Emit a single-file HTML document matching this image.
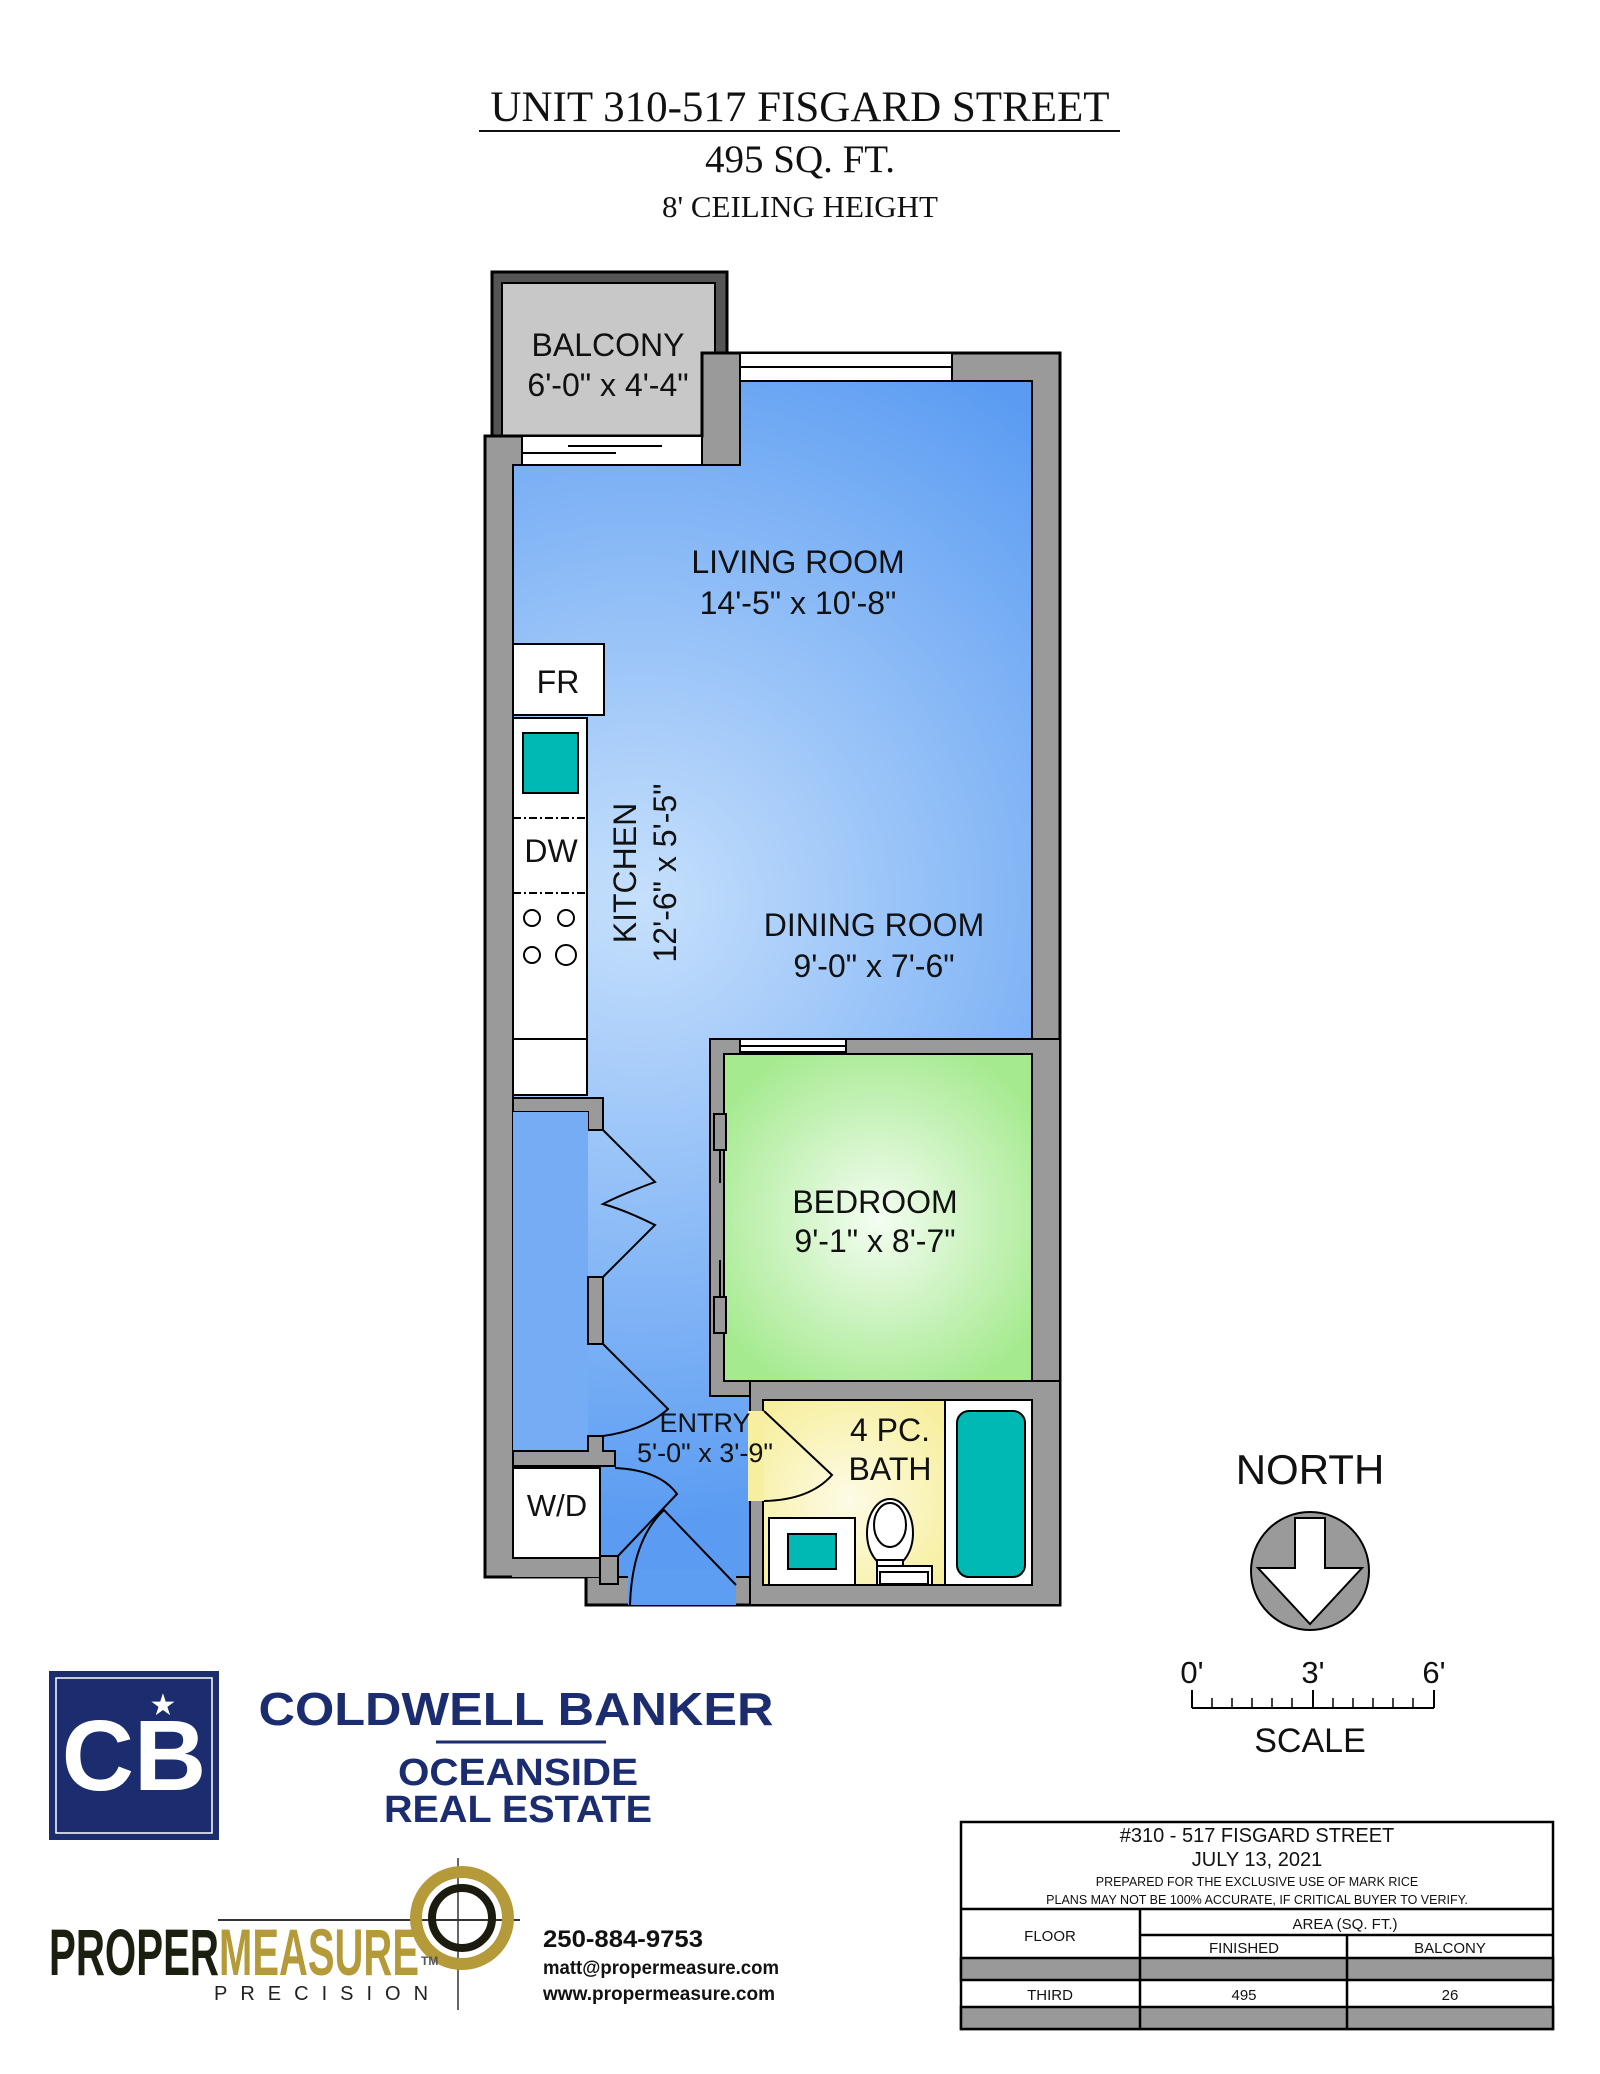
<!DOCTYPE html>
<html><head><meta charset="utf-8"><style>
html,body{margin:0;padding:0;background:#fff}
svg{display:block}
</style></head><body>
<svg width="1600" height="2074" viewBox="0 0 1600 2074" xmlns="http://www.w3.org/2000/svg">
<defs>
<radialGradient id="blue" cx="640" cy="900" r="620" gradientUnits="userSpaceOnUse">
<stop offset="0" stop-color="#c6e0fc"/><stop offset="1" stop-color="#5b9cf2"/></radialGradient>
<radialGradient id="green" cx="878" cy="1220" r="190" gradientUnits="userSpaceOnUse">
<stop offset="0" stop-color="#f4fdf2"/><stop offset="1" stop-color="#a5ea8f"/></radialGradient>
<radialGradient id="yel" cx="850" cy="1500" r="120" gradientUnits="userSpaceOnUse">
<stop offset="0" stop-color="#fdfbe6"/><stop offset="1" stop-color="#f7ef9f"/></radialGradient>
</defs>
<g font-family="Liberation Serif, serif" text-anchor="middle" fill="#111">
<text x="800" y="121" font-size="43">UNIT 310-517 FISGARD STREET</text>
<line x1="479" y1="131" x2="1120" y2="131" stroke="#111" stroke-width="2"/>
<text x="800" y="172" font-size="39">495 SQ. FT.</text>
<text x="800" y="217" font-size="31">8' CEILING HEIGHT</text>
</g>
<g stroke="#000" stroke-width="3">
<rect x="492" y="272" width="235" height="164" fill="#555"/>
<rect x="502" y="283" width="213" height="153" fill="#c8c8c8" stroke-width="2"/>
<polygon points="485,436 702,436 702,353 1060,353 1060,1605 586,1605 586,1577 485,1577" fill="#9a9a9a"/>
<polygon points="513,465 740,465 740,381 1032,381 1032,1577 513,1577" fill="url(#blue)" stroke-width="2"/>
<rect x="628" y="1570" width="108" height="35" fill="#5e9ef2" stroke="none"/>
</g>
<g stroke="#000" stroke-width="2" fill="#fff">
<rect x="740" y="353" width="212" height="28"/><line x1="740" y1="367" x2="952" y2="367"/>
<rect x="522" y="436" width="180" height="29"/>
<line x1="568" y1="446" x2="662" y2="446"/><line x1="522" y1="453" x2="616" y2="453"/>
<rect x="513" y="644" width="91" height="71"/>
<rect x="513" y="718" width="74" height="377"/>
<rect x="523" y="733" width="55" height="60" fill="#00b8b4"/>
<line x1="513" y1="818" x2="587" y2="818" stroke-dasharray="8,3,2,3"/>
<line x1="513" y1="893" x2="587" y2="893" stroke-dasharray="8,3,2,3"/>
<circle cx="532" cy="918" r="8"/><circle cx="566" cy="918" r="8"/>
<circle cx="532" cy="955" r="8"/><circle cx="566" cy="955" r="10"/>
<line x1="513" y1="1039" x2="587" y2="1039"/>
<path d="M513,1098 H603 V1130 H588 V1112 H513 Z" fill="#9a9a9a"/>
<rect x="513" y="1112" width="75" height="339" fill="#76acf4" stroke="none"/>
<rect x="588" y="1277" width="15" height="67" fill="#9a9a9a"/>
<path d="M588,1436 H603 V1451 H615 V1466 H513 V1451 H588 Z" fill="#9a9a9a"/>
<rect x="512" y="1556" width="88" height="21" fill="#9a9a9a" stroke="none"/>
<rect x="513" y="1468" width="87" height="90"/>
<rect x="600" y="1556" width="18" height="28" fill="#9a9a9a"/>
<g fill="none">
<path d="M603,1130 L655,1182 Q620,1195 603,1204 Q625,1210 655,1225 L603,1277"/>
<path d="M603,1344 L668,1409 Q645,1430 603,1436"/>
<path d="M615,1468 Q660,1470 677,1494 L618,1556"/>
<path d="M736,1585 L664,1510 Q632,1540 630,1605"/>
</g>
<rect x="710" y="1039" width="350" height="357" fill="#9a9a9a"/>
<rect x="724" y="1054" width="308" height="327" fill="url(#green)"/>
<rect x="740" y="1039" width="106" height="13"/><line x1="740" y1="1046" x2="846" y2="1046"/>
<rect x="714" y="1114" width="12" height="36" fill="#9a9a9a"/>
<rect x="714" y="1297" width="12" height="36" fill="#9a9a9a"/>
<line x1="720" y1="1150" x2="720" y2="1183"/><line x1="720" y1="1260" x2="720" y2="1297"/>
<rect x="750" y="1381" width="310" height="224" fill="#9a9a9a"/>
<rect x="763" y="1400" width="182" height="185" fill="url(#yel)"/>
<rect x="748" y="1411" width="16" height="90" fill="#f7ef9f" stroke="none"/>
<path d="M764,1411 L832,1475 Q810,1500 764,1501" fill="none"/>
<rect x="945" y="1400" width="87" height="185"/>
<rect x="957" y="1411" width="68" height="166" rx="12" fill="#00b8b4"/>
<rect x="769" y="1518" width="86" height="67"/>
<rect x="788" y="1534" width="48" height="35" fill="#00b8b4"/>
<ellipse cx="890" cy="1533" rx="23" ry="34"/>
<ellipse cx="890" cy="1525" rx="16" ry="22"/>
<rect x="877" y="1560" width="26" height="6"/>
<rect x="877" y="1566" width="55" height="19"/>
<rect x="880" y="1572" width="48" height="12"/>
</g>
<g font-family="Liberation Sans, sans-serif" text-anchor="middle" fill="#111" font-size="32">
<text x="608" y="356">BALCONY</text><text x="608" y="396">6'-0" x 4'-4"</text>
<text x="798" y="573">LIVING ROOM</text><text x="798" y="614">14'-5" x 10'-8"</text>
<text x="558" y="693">FR</text>
<text x="551" y="862">DW</text>
<text transform="translate(636,873) rotate(-90)">KITCHEN</text>
<text transform="translate(676,873) rotate(-90)">12'-6" x 5'-5"</text>
<text x="874" y="936">DINING ROOM</text><text x="874" y="977">9'-0" x 7'-6"</text>
<text x="875" y="1213">BEDROOM</text><text x="875" y="1252">9'-1" x 8'-7"</text>
<text x="557" y="1516" font-size="31">W/D</text>
<text x="705" y="1432" font-size="27">ENTRY</text><text x="705" y="1462" font-size="27">5'-0" x 3'-9"</text>
<text x="890" y="1441">4 PC.</text><text x="890" y="1480">BATH</text>
<text x="1310" y="1484" font-size="42">NORTH</text>
<text x="1192" y="1683" font-size="31">0'</text><text x="1313" y="1683" font-size="31">3'</text><text x="1434" y="1683" font-size="31">6'</text>
<text x="1310" y="1752" font-size="34">SCALE</text>
</g>
<g stroke="#000" stroke-width="2">
<circle cx="1310" cy="1571" r="59" fill="#9a9a9a"/>
<polygon points="1295,1518 1325,1518 1325,1568 1362,1568 1310,1624 1258,1568 1295,1568" fill="#fff"/>
<line x1="1192" y1="1708" x2="1434" y2="1708"/>
<line x1="1192" y1="1690" x2="1192" y2="1708"/><line x1="1313" y1="1690" x2="1313" y2="1708"/><line x1="1434" y1="1690" x2="1434" y2="1708"/>
<g stroke-width="1.5">
<line x1="1212" y1="1698" x2="1212" y2="1708"/><line x1="1232" y1="1698" x2="1232" y2="1708"/><line x1="1252" y1="1698" x2="1252" y2="1708"/><line x1="1272" y1="1698" x2="1272" y2="1708"/><line x1="1292" y1="1698" x2="1292" y2="1708"/>
<line x1="1333" y1="1698" x2="1333" y2="1708"/><line x1="1353" y1="1698" x2="1353" y2="1708"/><line x1="1373" y1="1698" x2="1373" y2="1708"/><line x1="1393" y1="1698" x2="1393" y2="1708"/><line x1="1413" y1="1698" x2="1413" y2="1708"/>
</g>
</g>
<rect x="49" y="1671" width="170" height="169" fill="#1b2c6f"/>
<rect x="56" y="1678" width="156" height="155" fill="none" stroke="#fff" stroke-width="1.5"/>
<text x="134" y="1790" font-family="Liberation Sans, sans-serif" font-weight="bold" font-size="100" fill="#fff" text-anchor="middle">CB</text>
<text x="163" y="1715" font-size="30" fill="#fff" text-anchor="middle">★</text>
<g font-family="Liberation Sans, sans-serif" font-weight="bold" fill="#1b2c6f" text-anchor="middle">
<text x="516" y="1725" font-size="46" textLength="515" lengthAdjust="spacingAndGlyphs">COLDWELL BANKER</text>
<line x1="436" y1="1742" x2="606" y2="1742" stroke="#1b2c6f" stroke-width="3"/>
<text x="518" y="1785" font-size="38" textLength="240" lengthAdjust="spacingAndGlyphs">OCEANSIDE</text>
<text x="518" y="1822" font-size="38" textLength="268" lengthAdjust="spacingAndGlyphs">REAL ESTATE</text>
</g>
<line x1="458" y1="1858" x2="458" y2="2010" stroke="#333" stroke-width="1.5"/>
<line x1="218" y1="1920" x2="520" y2="1920" stroke="#333" stroke-width="2"/>
<circle cx="462" cy="1918" r="46" fill="none" stroke="#b59a3a" stroke-width="12"/>
<circle cx="462" cy="1918" r="30" fill="none" stroke="#1b1b10" stroke-width="8"/>
<g font-family="Liberation Sans, sans-serif" font-weight="bold">
<text x="49" y="1975" font-size="66" fill="#1b1f10" textLength="170" lengthAdjust="spacingAndGlyphs">PROPER</text>
<text x="219" y="1975" font-size="66" fill="#b59a3a" textLength="200" lengthAdjust="spacingAndGlyphs">MEASURE</text>
<text x="421" y="1965" font-size="12" fill="#555">TM</text>
<text x="214" y="2000" font-size="20" font-weight="normal" fill="#222" letter-spacing="13">PRECISION</text>
<g fill="#111">
<text x="543" y="1947" font-size="24" textLength="160" lengthAdjust="spacingAndGlyphs">250-884-9753</text>
<text x="543" y="1974" font-size="19" textLength="236" lengthAdjust="spacingAndGlyphs">matt@propermeasure.com</text>
<text x="543" y="2000" font-size="19" textLength="232" lengthAdjust="spacingAndGlyphs">www.propermeasure.com</text>
</g>
</g>
<g stroke="#000" stroke-width="2.5" fill="none">
<rect x="961" y="1822" width="592" height="207" fill="#fff"/>
<line x1="961" y1="1909" x2="1553" y2="1909"/>
<line x1="1140" y1="1935" x2="1553" y2="1935"/>
<rect x="961" y="1958" width="592" height="22" fill="#999"/>
<rect x="961" y="2007" width="592" height="22" fill="#999"/>
<line x1="1140" y1="1909" x2="1140" y2="2029"/>
<line x1="1347" y1="1935" x2="1347" y2="2029"/>
</g>
<g font-family="Liberation Sans, sans-serif" text-anchor="middle" fill="#111">
<text x="1257" y="1842" font-size="20">#310 - 517 FISGARD STREET</text>
<text x="1257" y="1866" font-size="20">JULY 13, 2021</text>
<text x="1257" y="1886" font-size="12.5">PREPARED FOR THE EXCLUSIVE USE OF MARK RICE</text>
<text x="1257" y="1904" font-size="12.5">PLANS MAY NOT BE 100% ACCURATE, IF CRITICAL BUYER TO VERIFY.</text>
<text x="1345" y="1929" font-size="15">AREA (SQ. FT.)</text>
<text x="1050" y="1941" font-size="15">FLOOR</text>
<text x="1244" y="1953" font-size="15">FINISHED</text>
<text x="1450" y="1953" font-size="15">BALCONY</text>
<text x="1050" y="2000" font-size="15">THIRD</text>
<text x="1244" y="2000" font-size="15">495</text>
<text x="1450" y="2000" font-size="15">26</text>
</g>
</svg>
</body></html>
